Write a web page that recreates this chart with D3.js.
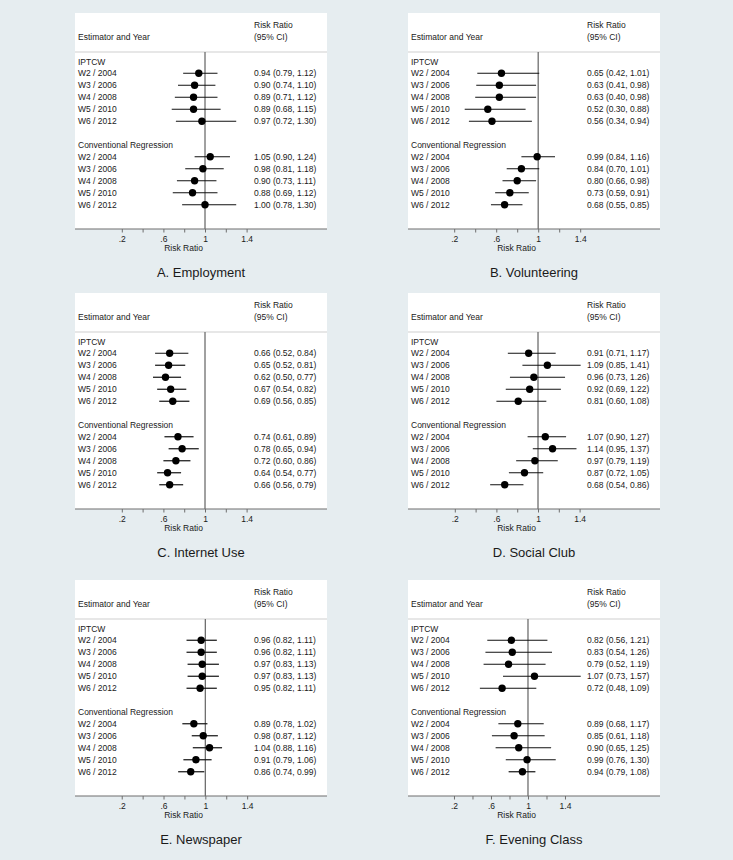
<!DOCTYPE html>
<html>
<head>
<meta charset="utf-8">
<script src="https://cdn.jsdelivr.net/npm/d3@7"></script>
<style>
  html, body { margin: 0; padding: 0; background: #e6edf0; }
  svg { display: block; }
  text { font-family: "Liberation Sans", Arial, sans-serif; fill: #1a1a1a; }
</style>
</head>
<body>
<svg id="chart" width="733" height="860"></svg>
<script>
// ---------------- DATA ----------------
const panelTitles = ["A. Employment", "B. Volunteering", "C. Internet Use",
                     "D. Social Club", "E. Newspaper", "F. Evening Class"];
const groupNames = ["IPTCW", "Conventional Regression"];
const rowLabels = ["W2 / 2004", "W3 / 2006", "W4 / 2008", "W5 / 2010", "W6 / 2012"];

// IPTCW estimates per panel (rows W2..W6)
const iptcwRR = [
  [0.94, 0.90, 0.89, 0.89, 0.97],
  [0.65, 0.63, 0.63, 0.52, 0.56],
  [0.66, 0.65, 0.62, 0.67, 0.69],
  [0.91, 1.09, 0.96, 0.92, 0.81],
  [0.96, 0.96, 0.97, 0.97, 0.95],
  [0.82, 0.83, 0.79, 1.07, 0.72]
];
const iptcwLo = [
  [0.79, 0.74, 0.71, 0.68, 0.72],
  [0.42, 0.41, 0.40, 0.30, 0.34],
  [0.52, 0.52, 0.50, 0.54, 0.56],
  [0.71, 0.85, 0.73, 0.69, 0.60],
  [0.82, 0.82, 0.83, 0.83, 0.82],
  [0.56, 0.54, 0.52, 0.73, 0.48]
];
const iptcwHi = [
  [1.12, 1.10, 1.12, 1.15, 1.30],
  [1.01, 0.98, 0.98, 0.88, 0.94],
  [0.84, 0.81, 0.77, 0.82, 0.85],
  [1.17, 1.41, 1.26, 1.22, 1.08],
  [1.11, 1.11, 1.13, 1.13, 1.11],
  [1.21, 1.26, 1.19, 1.57, 1.09]
];
// Conventional regression estimates per panel
const crRR = [
  [1.05, 0.98, 0.90, 0.88, 1.00],
  [0.99, 0.84, 0.80, 0.73, 0.68],
  [0.74, 0.78, 0.72, 0.64, 0.66],
  [1.07, 1.14, 0.97, 0.87, 0.68],
  [0.89, 0.98, 1.04, 0.91, 0.86],
  [0.89, 0.85, 0.90, 0.99, 0.94]
];
const crLo = [
  [0.90, 0.81, 0.73, 0.69, 0.78],
  [0.84, 0.70, 0.66, 0.59, 0.55],
  [0.61, 0.65, 0.60, 0.54, 0.56],
  [0.90, 0.95, 0.79, 0.72, 0.54],
  [0.78, 0.87, 0.88, 0.79, 0.74],
  [0.68, 0.61, 0.65, 0.76, 0.79]
];
const crHi = [
  [1.24, 1.18, 1.11, 1.12, 1.30],
  [1.16, 1.01, 0.98, 0.91, 0.85],
  [0.89, 0.94, 0.86, 0.77, 0.79],
  [1.27, 1.37, 1.19, 1.05, 0.86],
  [1.02, 1.12, 1.16, 1.06, 0.99],
  [1.17, 1.18, 1.25, 1.30, 1.08]
];

// x-axis domain of each panel (risk ratio scale)
const xDomains = [
  [-0.25, 2.173], [-0.24, 2.16], [-0.25, 2.173],
  [-0.25, 2.173], [-0.247, 2.164], [-0.297, 2.427]
];
const tickValues = [0.2, 0.4, 0.6, 0.8, 1.0, 1.2, 1.4];
const tickLabels = [".2", "", ".6", "", "1", "", "1.4"];
const refValue = 1;

// ---------------- LAYOUT ----------------
const colLeft = [75, 408];
const rowTop = [13, 293, 580];
const boxW = 252, boxH = 216;
const fs = 8.5;
const fmt = d3.format(".2f");

const svg = d3.select("#chart");

panelTitles.forEach((title, p) => {
  const left = colLeft[p % 2];
  const top = rowTop[Math.floor(p / 2)];
  const g = svg.append("g").attr("transform", `translate(${left},${top})`);

  const x = d3.scaleLinear().domain(xDomains[p]).range([0, boxW]);

  // white plot box
  g.append("rect").attr("x", 0).attr("y", 0).attr("width", boxW).attr("height", boxH)
    .attr("fill", "#ffffff");

  // header
  g.append("text").attr("x", 3).attr("y", 24).attr("dominant-baseline", "central")
    .attr("font-size", fs).text("Estimator and Year");
  g.append("text").attr("x", 179).attr("y", 12).attr("dominant-baseline", "central")
    .attr("font-size", fs).text("Risk Ratio");
  g.append("text").attr("x", 179).attr("y", 24).attr("dominant-baseline", "central")
    .attr("font-size", fs).text("(95% CI)");
  g.append("line").attr("x1", 0).attr("x2", boxW).attr("y1", 39).attr("y2", 39)
    .attr("stroke", "#cfcfcf").attr("stroke-width", 1);

  // reference line at 1
  g.append("line").attr("x1", x(refValue)).attr("x2", x(refValue))
    .attr("y1", 39).attr("y2", boxH)
    .attr("stroke", "#6e6e6e").attr("stroke-width", 1.3);

  const groups = [
    { name: groupNames[0], y0: 48.5, rr: iptcwRR[p], lo: iptcwLo[p], hi: iptcwHi[p] },
    { name: groupNames[1], y0: 132, rr: crRR[p], lo: crLo[p], hi: crHi[p] }
  ];

  groups.forEach(grp => {
    g.append("text").attr("x", 3).attr("y", grp.y0).attr("dominant-baseline", "central")
      .attr("font-size", fs).text(grp.name);
    const rows = rowLabels.map((lab, i) => ({
      lab, rr: grp.rr[i], lo: grp.lo[i], hi: grp.hi[i], y: grp.y0 + 11.75 + 12 * i
    }));
    const rg = g.append("g");
    rg.selectAll("text.lab").data(rows).join("text").attr("class", "lab")
      .attr("x", 3).attr("y", d => d.y).attr("dominant-baseline", "central")
      .attr("font-size", fs).text(d => d.lab);
    rg.selectAll("line.ci").data(rows).join("line").attr("class", "ci")
      .attr("x1", d => x(d.lo)).attr("x2", d => x(d.hi))
      .attr("y1", d => d.y).attr("y2", d => d.y)
      .attr("stroke", "#111").attr("stroke-width", 1.2);
    rg.selectAll("circle").data(rows).join("circle")
      .attr("cx", d => x(d.rr)).attr("cy", d => d.y).attr("r", 3.7)
      .attr("fill", "#000");
    rg.selectAll("text.val").data(rows).join("text").attr("class", "val")
      .attr("x", 179).attr("y", d => d.y).attr("dominant-baseline", "central")
      .attr("font-size", fs)
      .text(d => `${fmt(d.rr)} (${fmt(d.lo)}, ${fmt(d.hi)})`);
  });

  // x axis
  const axis = d3.axisBottom(x).tickValues(tickValues).tickSize(3.5)
    .tickFormat((d, i) => tickLabels[i]);
  const ax = g.append("g").attr("transform", `translate(0,${boxH})`).call(axis);
  ax.select(".domain").attr("d", `M0,0H${boxW}`).attr("stroke", "#6e6e6e").attr("stroke-width", 1.2);
  ax.selectAll(".tick line").attr("stroke", "#6e6e6e");
  ax.selectAll(".tick text").attr("font-size", fs).attr("font-family", "Liberation Sans, Arial, sans-serif")
    .attr("fill", "#1a1a1a").attr("dy", null).attr("y", 10).attr("dominant-baseline", "central");

  g.append("text").attr("x", 108.5).attr("y", boxH + 19).attr("text-anchor", "middle")
    .attr("dominant-baseline", "central").attr("font-size", fs).text("Risk Ratio");

  // panel title
  g.append("text").attr("x", boxW / 2).attr("y", boxH + 43.5).attr("text-anchor", "middle")
    .attr("dominant-baseline", "central").attr("font-size", 13).attr("fill", "#222")
    .text(title);
});
</script>
</body>
</html>
